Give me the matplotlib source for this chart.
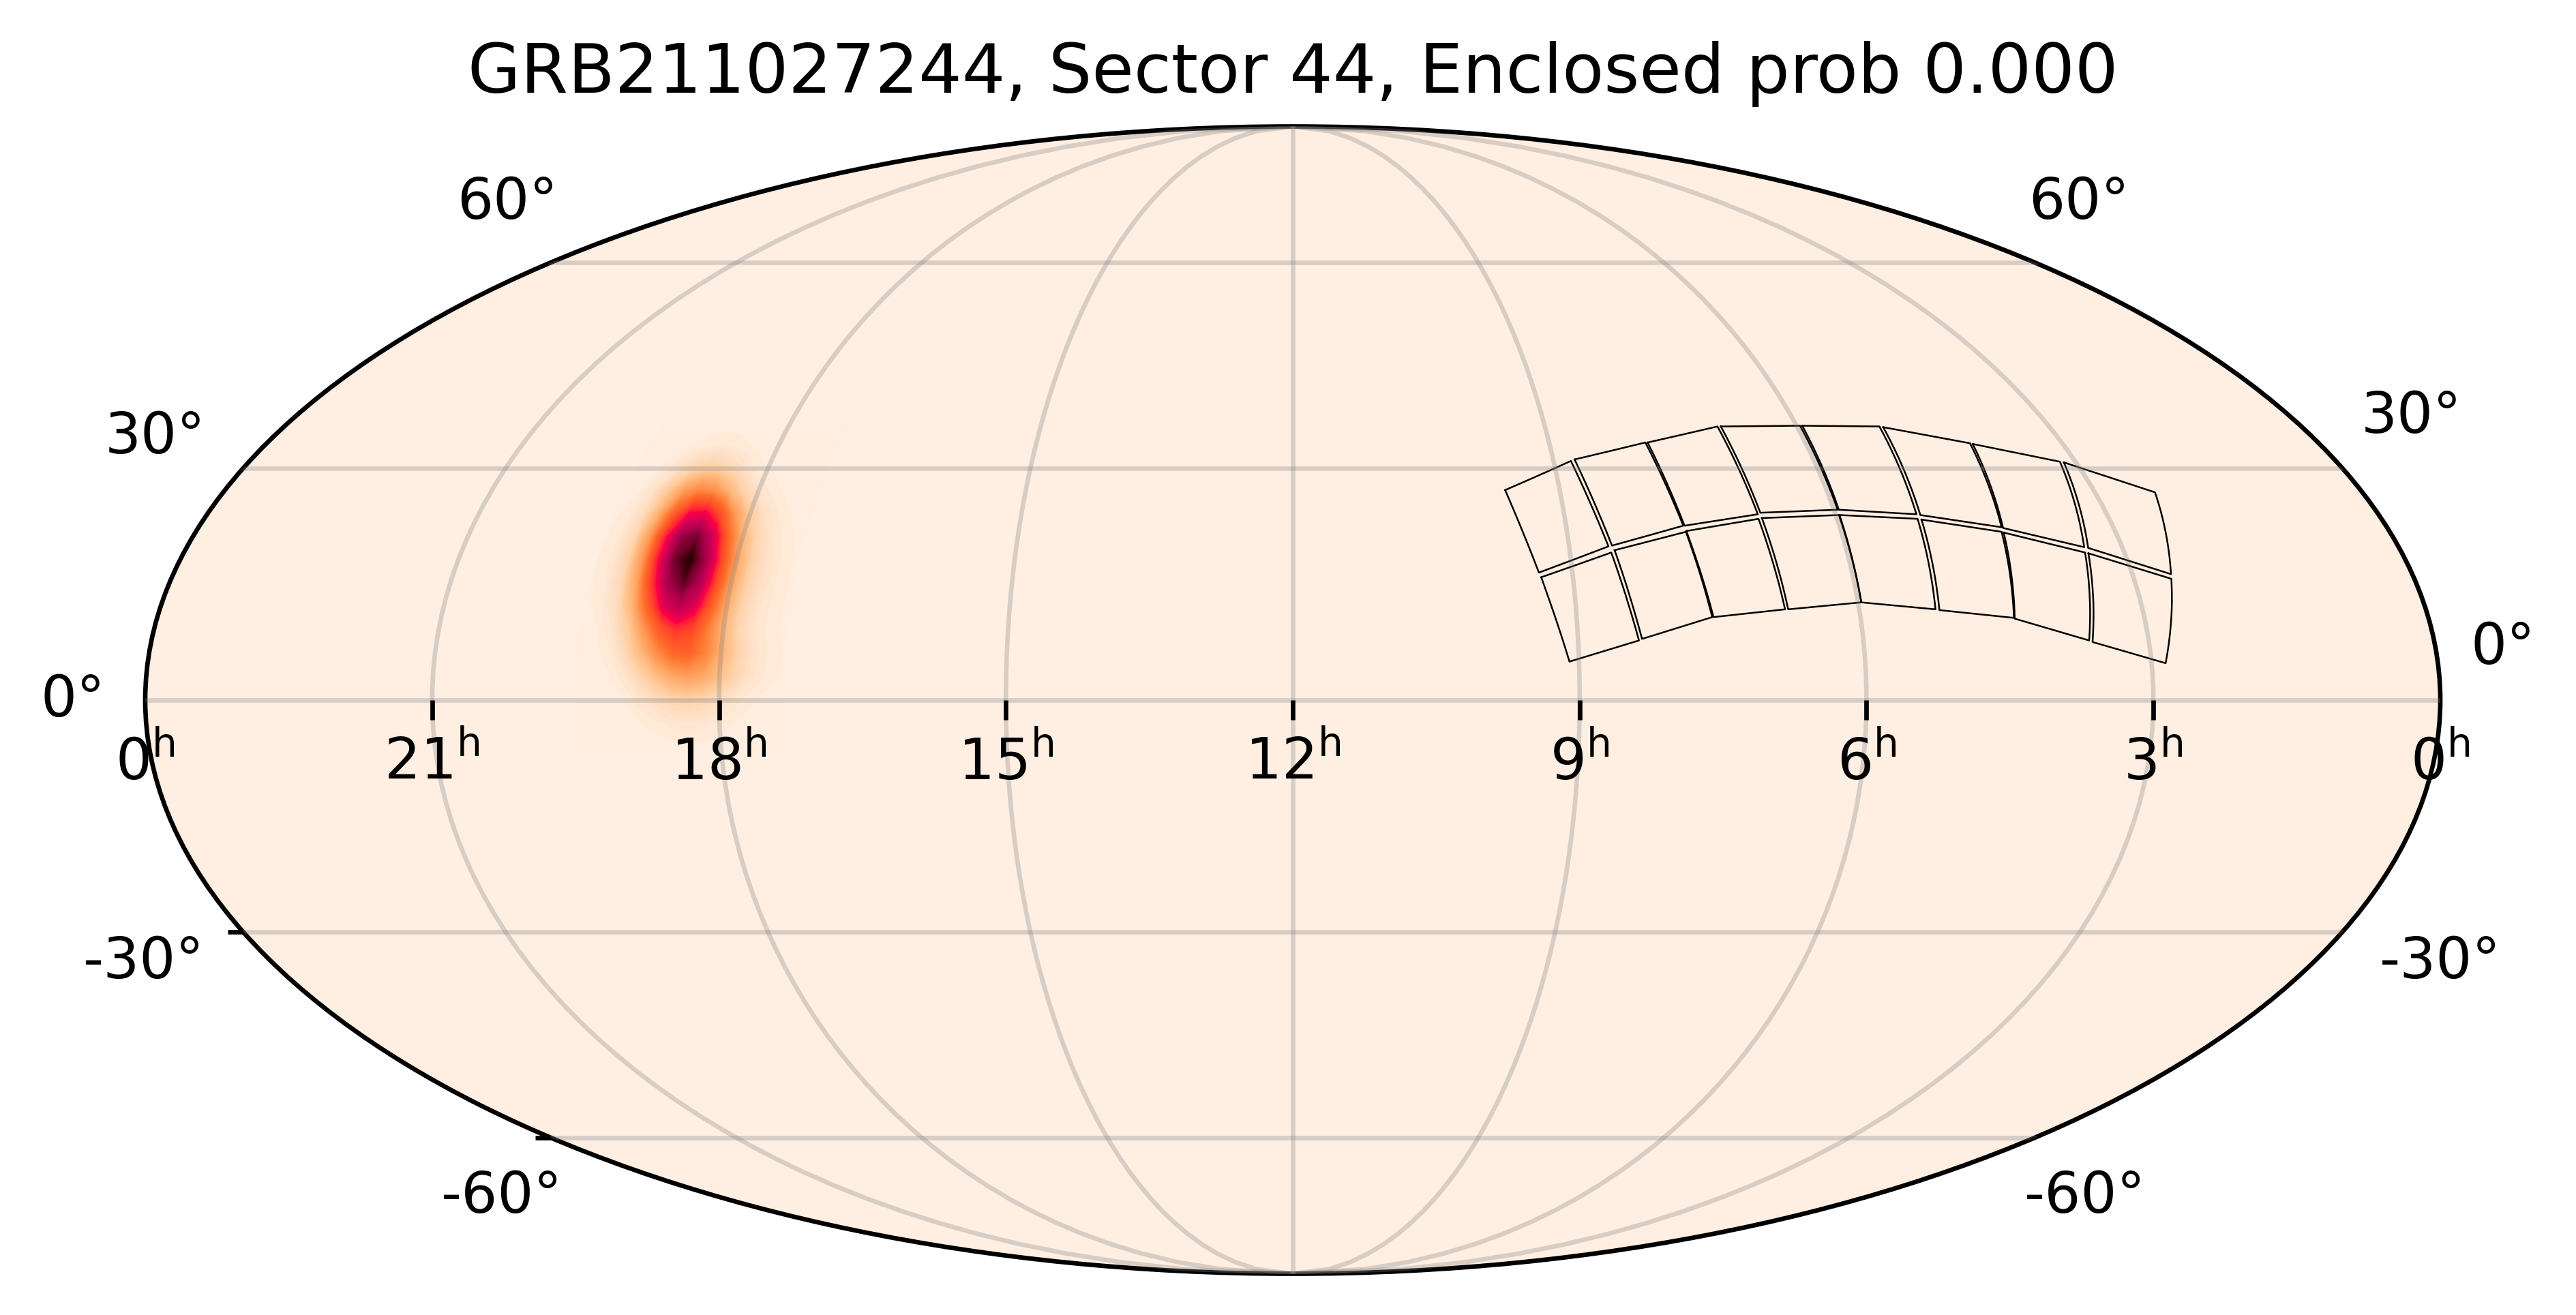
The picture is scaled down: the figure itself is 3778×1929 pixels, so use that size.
import numpy as np
import matplotlib
matplotlib.use('Agg')
import matplotlib.pyplot as plt
from matplotlib.colors import LinearSegmentedColormap
from matplotlib.markers import TICKDOWN, TICKLEFT
from matplotlib.ticker import NullFormatter

title = 'GRB211027244, Sector 44, Enclosed prob 0.000'

# localisation map, probability relative to the peak (rows: dec, columns: ra)
map_ra = [292.5, 290, 287.5, 285, 282.5, 280, 277.5, 275, 272.5, 270, 267.5, 265, 262.5, 260]
map_dec = [-6, -3, 0, 3, 6, 9, 12, 15, 18, 21, 24, 27, 30, 33, 36]
map_prob = [
    [.000, .000, .000, .001, .002, .003, .004, .005, .004, .003, .002, .001, .000, .000],
    [.000, .000, .001, .003, .007, .012, .018, .020, .018, .012, .007, .004, .002, .001],
    [.000, .001, .003, .007, .020, .036, .053, .060, .053, .036, .020, .009, .004, .002],
    [.001, .002, .006, .020, .056, .106, .157, .180, .157, .106, .056, .026, .012, .006],
    [.002, .004, .014, .050, .124, .222, .307, .317, .242, .142, .067, .030, .014, .007],
    [.003, .007, .025, .080, .198, .345, .437, .394, .256, .126, .053, .023, .011, .005],
    [.005, .012, .040, .130, .328, .564, .680, .564, .328, .145, .058, .025, .012, .005],
    [.006, .016, .052, .175, .443, .761, .899, .715, .394, .166, .066, .029, .013, .006],
    [.007, .018, .060, .205, .512, .867, .995, .762, .403, .165, .065, .028, .013, .005],
    [.006, .017, .058, .200, .484, .783, .856, .626, .318, .128, .051, .023, .010, .004],
    [.005, .013, .043, .145, .334, .512, .533, .375, .187, .075, .030, .014, .006, .003],
    [.003, .008, .030, .092, .183, .238, .213, .132, .061, .025, .011, .005, .002, .001],
    [.001, .003, .011, .032, .058, .070, .058, .034, .015, .006, .003, .001, .001, .000],
    [.001, .001, .004, .008, .014, .017, .014, .008, .004, .001, .001, .000, .000, .000],
    [.000, .000, .001, .001, .002, .003, .002, .001, .001, .000, .000, .000, .000, .000],
]

# corners of the 16 detectors of the sector, in degrees
ccd_ra = [
    [144.2, 132.0, 128.6, 140.4],
    [131.3, 118.1, 115.7, 128.0],
    [117.7, 104.2, 102.9, 115.5],
    [103.6, 89.4, 89.4, 102.4],
    [89.0, 75.3, 76.6, 89.2],
    [74.7, 61.2, 63.4, 76.0],
    [60.8, 47.7, 51.2, 63.2],
    [47.1, 34.9, 38.8, 50.6],
    [140.1, 128.3, 125.4, 136.5],
    [127.7, 115.5, 113.5, 124.9],
    [115.4, 103.0, 101.8, 113.3],
    [102.4, 89.5, 89.5, 101.3],
    [89.4, 76.7, 77.9, 89.5],
    [76.1, 63.7, 65.7, 77.3],
    [63.4, 51.4, 54.4, 65.6],
    [50.9, 39.0, 42.8, 53.9],
]
ccd_dec = [
    [27.1, 31.0, 19.7, 16.3],
    [31.2, 33.5, 22.4, 19.8],
    [33.5, 35.7, 23.9, 22.4],
    [35.7, 35.8, 24.5, 24.1],
    [35.8, 35.7, 23.9, 24.5],
    [35.6, 33.4, 22.2, 23.8],
    [33.3, 30.9, 19.6, 22.1],
    [30.8, 26.8, 16.1, 19.5],
    [15.7, 18.9, 7.6, 4.9],
    [19.2, 21.6, 10.6, 7.8],
    [21.7, 23.3, 11.6, 10.6],
    [23.4, 23.8, 12.5, 11.6],
    [23.8, 23.3, 11.6, 12.5],
    [23.2, 21.6, 10.5, 11.5],
    [21.5, 18.9, 7.6, 10.4],
    [18.8, 15.5, 4.7, 7.4],
]

ra_hours = [24, 21, 18, 15, 12, 9, 6, 3, 0]
dec_labels = ['60°', '30°', '0°', '-30°', '-60°']
# label centres in pixels, the frame of astropy-style axes puts them unevenly
left_pos = [(744, 298), (228, 642), (107, 1027), (211, 1412), (736, 1755)]
right_pos = [(3049, 298), (3537, 612), (3671, 950), (3579, 1412), (3058, 1755)]
W, H = 3779, 1929

cmap_nodes = [
    (0.0, (255, 239, 226)), (0.03, (254, 225, 200)), (0.1, (255, 195, 140)),
    (0.2, (255, 150, 80)), (0.3, (255, 105, 40)), (0.4, (255, 70, 40)),
    (0.495, (255, 20, 60)), (0.5, (255, 0, 65)), (0.6, (215, 0, 85)),
    (0.75, (170, 0, 75)), (0.88, (110, 0, 40)), (0.95, (60, 0, 10)), (1.0, (40, 0, 0)),
]
cmap = LinearSegmentedColormap.from_list(
    'skymap', [(v, tuple(c / 255 for c in rgb)) for v, rgb in cmap_nodes], N=512)


def to_lon(ra):
    # RA grows to the left, 12h in the middle
    return np.radians(180 - np.asarray(ra, dtype=float))


fig = plt.figure(figsize=(W / 600, H / 600), dpi=600)
ax = fig.add_axes([213 / W, (H - 1868.5) / H, 3366 / W, 1683 / H], projection='mollweide')
ax.set_facecolor(cmap(0.0))
ax.set_longitude_grid(45)
ax.set_latitude_grid(30)
ax.set_longitude_grid_ends(90)
ax.xaxis.set_major_formatter(NullFormatter())
ax.yaxis.set_major_formatter(NullFormatter())
ax.grid(True, color='gray', alpha=0.3, lw=0.8)
ax.set_axisbelow(False)

lon_grid, lat_grid = np.meshgrid(to_lon(map_ra), np.radians(map_dec))
ax.contourf(lon_grid, lat_grid, np.array(map_prob), levels=np.linspace(0, 1, 129),
            cmap=cmap, vmin=0, vmax=1, zorder=1, antialiased=False)

for ra, dec in zip(ccd_ra, ccd_dec):
    ax.plot(to_lon(ra + ra[:1]), np.radians(dec + dec[:1]), color='k', lw=0.3, zorder=2)

# ticks along the equator, and the two stubs on the lower left of the frame
for h in ra_hours[1:-1]:
    ax.plot(to_lon(h * 15), 0, marker=TICKDOWN, ms=3.5, mew=0.8, color='k', clip_on=False, zorder=4)
for dec in (-30, -60):
    ax.plot(-np.pi, np.radians(dec), marker=TICKLEFT, ms=2.7, mew=0.8, color='k', clip_on=False, zorder=4)

for h in ra_hours:
    ax.annotate(r'$\mathregular{%d^{h}}$' % (h % 24), xy=(to_lon(h * 15), 0), xytext=(0, -6.2),
                textcoords='offset points', ha='center', va='top', fontsize=10,
                annotation_clip=False, zorder=5)

for label, (x, y) in zip(dec_labels, left_pos):
    fig.text(x / W, 1 - y / H, label, ha='center', va='center', fontsize=10)
for label, (x, y) in zip(dec_labels, right_pos):
    fig.text(x / W, 1 - y / H, label, ha='center', va='center', fontsize=10)

ax.set_title(title, fontsize=12, pad=6)
fig.savefig('out.png', dpi=600)
